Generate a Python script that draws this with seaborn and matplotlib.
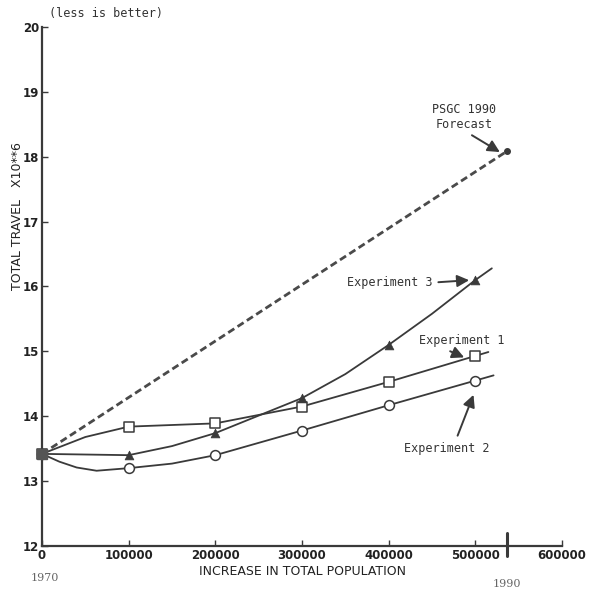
import matplotlib
matplotlib.use("Agg")
import matplotlib.pyplot as plt
import seaborn as sns
import pandas as pd

# values
pop = [0, 100000, 200000, 300000, 400000, 500000]
exp1 = [13.42, 13.84, 13.89, 14.15, 14.53, 14.93]
exp2 = [13.42, 13.20, 13.40, 13.78, 14.17, 14.55]
exp3 = [13.42, 13.40, 13.74, 14.28, 15.10, 16.10]

# extra points (between/after markers)
exp1_path_x = [0, 50000, 100000, 200000, 300000, 400000, 500000, 515000]
exp1_path_y = [13.42, 13.68, 13.84, 13.89, 14.15, 14.53, 14.93, 14.99]
exp2_path_x = [0, 20000, 40000, 63000, 100000, 150000, 200000, 300000, 400000, 500000, 521000]
exp2_path_y = [13.42, 13.30, 13.21, 13.16, 13.20, 13.27, 13.40, 13.78, 14.17, 14.55, 14.63]
exp3_path_x = [0, 100000, 150000, 200000, 300000, 350000, 400000, 450000, 500000, 519000]
exp3_path_y = [13.42, 13.40, 13.54, 13.74, 14.28, 14.65, 15.10, 15.58, 16.10, 16.28]

forecast_x = [0, 537000]
forecast_y = [13.42, 18.09]

sns.set_style("ticks")
plt.rcParams['font.family'] = ['DejaVu Sans']
ink = "#3a3a3a"

fig = plt.figure(figsize=(5.93, 5.96), dpi=100)
ax = fig.add_axes([0.0708, 0.0839, 0.877, 0.8708])

paths = pd.concat([
    pd.DataFrame({"x": exp1_path_x, "y": exp1_path_y, "run": "Experiment 1"}),
    pd.DataFrame({"x": exp2_path_x, "y": exp2_path_y, "run": "Experiment 2"}),
    pd.DataFrame({"x": exp3_path_x, "y": exp3_path_y, "run": "Experiment 3"}),
])
sns.lineplot(data=paths, x="x", y="y", units="run", estimator=None, sort=False,
             color=ink, lw=1.3, ax=ax, legend=False)

fc = pd.DataFrame({"x": forecast_x, "y": forecast_y})
sns.lineplot(data=fc, x="x", y="y", color="#4a4a4a", lw=2.0, ax=ax,
             linestyle=(0, (2.6, 1.4)), legend=False)
ax.plot(forecast_x[-1], forecast_y[-1], "o", color=ink, ms=4, clip_on=False)

pts = pd.DataFrame({"x": pop, "e1": exp1, "e2": exp2, "e3": exp3})
sns.scatterplot(data=pts, x="x", y="e1", marker="s", s=48, facecolor="white",
                edgecolor=ink, linewidth=1.1, ax=ax, clip_on=False, zorder=3)
sns.scatterplot(data=pts, x="x", y="e2", marker="o", s=50, facecolor="white",
                edgecolor=ink, linewidth=1.1, ax=ax, clip_on=False, zorder=3)
sns.scatterplot(data=pts, x="x", y="e3", marker="^", s=40, color=ink,
                edgecolor=ink, ax=ax, clip_on=False, zorder=4)
ax.plot(0, 13.42, "s", color="#555555", ms=7, clip_on=False, zorder=5)

ax.set_xlim(0, 600000)
ax.set_ylim(12, 20)
ax.set_xticks([0, 100000, 200000, 300000, 400000, 500000, 600000])
ax.set_xticklabels(["0", "100000", "200000", "300000", "400000", "500000", "600000"])
ax.set_yticks(range(12, 21))
ax.tick_params(direction="in", length=4, width=1, color=ink, labelcolor="#222222",
               labelsize=8.5, pad=2)
for lab in ax.get_xticklabels() + ax.get_yticklabels():
    lab.set_fontweight("bold")
sns.despine(ax=ax)
for sp in ("left", "bottom"):
    ax.spines[sp].set_linewidth(1.6)
    ax.spines[sp].set_color(ink)

ax.set_xlabel("INCREASE IN TOTAL POPULATION", fontsize=9, color="#222222", labelpad=2)
ax.set_ylabel("TOTAL TRAVEL   X10**6", fontsize=9, color="#222222")
ax.yaxis.set_label_coords(-0.034, 0.636)

# 1990 marker on the x axis
ax.plot([537000, 537000], [11.85, 12.2], color=ink, lw=2.2, clip_on=False)
fig.text(0.052, 0.026, "1970", fontsize=8, color="#666666", family="DejaVu Serif")
fig.text(0.831, 0.015, "1990", fontsize=8, color="#666666", family="DejaVu Serif")
fig.text(0.083, 0.972, "(less is better)", fontsize=8.5, color="#333333",
         family="DejaVu Sans Mono")

mono = dict(fontsize=8.5, family="DejaVu Sans Mono", color="#333333")
arrow = dict(arrowstyle="-|>", mutation_scale=18, lw=1.4, color=ink)
ax.annotate("PSGC 1990\nForecast", xy=(531000, 18.05), xytext=(487000, 18.62),
            ha="center", va="center", arrowprops=dict(arrow, relpos=(0.5, 0.0)), **mono)
ax.annotate("Experiment 3", xy=(496000, 16.10), xytext=(401000, 16.06),
            ha="center", va="center", arrowprops=dict(arrow, relpos=(1.0, 0.5)), **mono)
ax.annotate("Experiment 1", xy=(490000, 14.89), xytext=(484000, 15.17),
            ha="center", va="center", arrowprops=dict(arrow, relpos=(0.25, 0.0)), **mono)
ax.annotate("Experiment 2", xy=(499000, 14.37), xytext=(467000, 13.51),
            ha="center", va="center", arrowprops=dict(arrow, relpos=(0.6, 1.0)), **mono)

plt.savefig("out.png", dpi=100)
